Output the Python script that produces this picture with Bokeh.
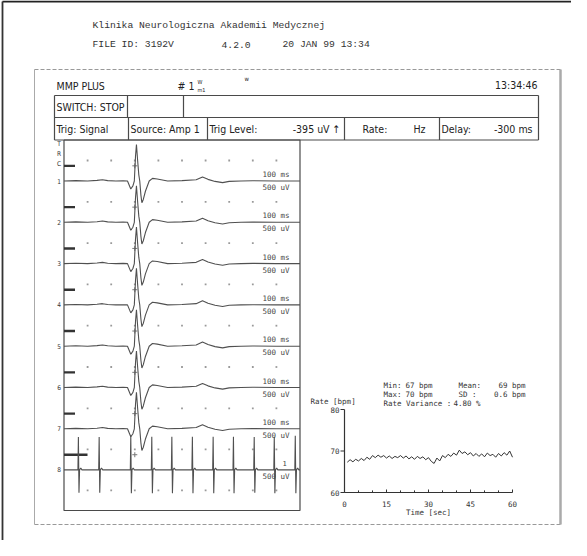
from bokeh.plotting import figure
from bokeh.models import Range1d
from bokeh.core.properties import value
from bokeh.embed import file_html
from bokeh.resources import INLINE

# ---------------- data ----------------
HEADER_TITLE = "Klinika Neurologiczna Akademii Medycznej"
FILE_ID = "FILE ID: 3192V"
VERSION = "4.2.0"
STAMP = "20 JAN 99 13:34"
DEVICE = "MMP PLUS"
CLOCK = "13:34:46"
SWITCH_TEXT = "SWITCH: STOP"
TRIG_TEXT = "Trig: Signal"
SOURCE_TEXT = "Source: Amp 1"
TRIG_LEVEL_LABEL = "Trig Level:"
TRIG_LEVEL_VALUE = "-395 uV \u2191"
RATE_LABEL = "Rate:"
RATE_UNIT = "Hz"
DELAY_LABEL = "Delay:"
DELAY_VALUE = "-300 ms"

CHANNELS = ["1", "2", "3", "4", "5", "6", "7", "8"]
TIMEBASE_LABEL = "100 ms"
GAIN_LABEL = "500 uV"
DELAY_MS = -300
SWEEP_MS = 1000
GRID_MS = [-200, -100, 0, 100, 200, 300, 400, 500, 600]
GRID_UV = 500

# averaged evoked response (channels 1-7), time in ms, amplitude in uV
WAVE_T = [-300, -250, -200, -160, -137, -115, -80, -50, -31, -17, -8, -2, 3, 7,
          12, 17, 21, 26, 30, 36, 45, 61, 75, 95, 139, 200, 260, 287, 310, 340,
          372, 400, 450, 500, 600, 700]
WAVE_UV = [0, 10, 0, 15, 30, 10, 0, 5, 0, -195, -120, 0, 600, 890,
           500, 150, 0, -350, -530, -450, -250, 0, 65, 50, 0, 10, 30, 100, 40, -10,
           -40, -10, 0, 5, 0, 0]

# channel 8: ECG-like spikes
ECG_SPIKE_T = [-239, -151, -17, 72, 157, 244, 332, 418, 506, 591, 680]
ECG_SPIKE_UP = [800, 800, 830, 810, 810, 810, 810, 810, 800, 810, 830]
ECG_SPIKE_DOWN = [-560, -560, -570, -570, -570, -570, -570, -570, -560, -570, -570]

# heart rate trend
RATE_T = list(range(1, 61))
RATE_BPM = [67.3, 67.9, 67.4, 68.0, 67.6, 68.2, 67.7, 68.5, 68.0, 68.9,
            68.4, 69.0, 68.5, 68.9, 68.3, 68.8, 68.2, 68.7, 68.4, 68.9,
            68.3, 68.8, 68.1, 68.6, 68.0, 68.7, 68.2, 68.6, 67.9, 68.4,
            67.5, 67.0, 68.3, 67.6, 68.9, 68.4, 69.2, 68.7, 69.5, 69.0,
            70.2, 69.4, 69.8, 69.1, 69.6, 68.8, 69.4, 68.7, 69.3, 68.6,
            69.5, 68.9, 69.2, 68.5, 69.4, 68.8, 69.6, 69.0, 70.0, 68.5]
RATE_XTICKS = [0, 15, 30, 45, 60]
RATE_XMINOR = [5, 10, 20, 25, 35, 40, 50, 55]
RATE_YTICKS = [60, 70, 80]
RATE_YLABEL = "Rate [bpm]"
RATE_XLABEL = "Time [sec]"
STAT_MIN, STAT_MAX, STAT_MEAN, STAT_SD, STAT_VAR = "67 bpm", "70 bpm", "69 bpm", "0.6 bpm", "4.80 %"

# ---------------- layout (page pixels) ----------------
W, H = 571, 540
X0, X1, Y0, Y1 = 8, 8 + W, 8, 8 + H
PX0, PX1, PTOP, PBOT = 71.5, 307.5, 147.5, 518
BASE = [188.5, 229.8, 271.1, 312.4, 353.7, 395.0, 436.3, 477.4]
UV_PER_PX = 500 / 20.5
MS_PER_PX = SWEEP_MS / (PX1 - PX0)
RX0, RX1, RY_TOP, RY_BOT = 352, 520, 417, 500

SANS = value("DejaVu Sans Condensed")
MONO = value("Liberation Mono")
DMONO = value("DejaVu Sans Mono")
INK = "#222222"
LINE = "#4a4a4a"


def ms_at(x):
    return DELAY_MS + (x - PX0) * MS_PER_PX


p = figure(width=W, height=H, x_range=Range1d(X0, X1), y_range=Range1d(Y1, Y0),
           output_backend="svg", toolbar_location=None, x_axis_type=None,
           y_axis_type=None, min_border=0, outline_line_color=None,
           background_fill_color="white", border_fill_color="white")

p.extra_x_ranges = {
    "ms": Range1d(ms_at(X0), ms_at(X1)),
    "sec": Range1d((X0 - RX0) * 60 / (RX1 - RX0), (X1 - RX0) * 60 / (RX1 - RX0)),
}
bpm_pp = 20 / (RY_BOT - RY_TOP)
yr = {"bpm": Range1d(60 + (RY_BOT - Y1) * bpm_pp, 60 + (RY_BOT - Y0) * bpm_pp)}
for k, b in enumerate(BASE):
    yr[f"ch{k+1}"] = Range1d((b - Y1) * UV_PER_PX, (b - Y0) * UV_PER_PX)
p.extra_y_ranges = yr

# page frame
p.line([10, X1], [9, 9], line_color="#222", line_width=1.8)
p.line([10, 10], [9, Y1], line_color="#333", line_width=1.8)

# outer box of the printout
p.line([42, 568], [77, 77], line_color="#999", line_width=1.2, line_dash="4 2")
p.line([42, 568], [532, 532], line_color="#999", line_width=1.2, line_dash="4 2")
p.line([42, 42], [77, 532], line_color="#aaa", line_width=1)
p.line([568, 568], [77, 532], line_color="#aaa", line_width=2.5)

# header texts
p.text([100], [33], text=[HEADER_TITLE], text_font=MONO, text_font_size="9.7px",
       text_baseline="middle", text_color="#333")
p.text([100, 229, 290], [52, 52, 52], text=[FILE_ID, VERSION, STAMP], text_font=MONO,
       text_font_size="9.7px", text_baseline="middle", text_color="#333")

# device title line
p.text([64], [93], text=[DEVICE], text_font=SANS, text_font_size="10.5px",
       text_baseline="middle", text_color=INK)
p.text([185], [93], text=["# 1"], text_font=SANS, text_font_size="10.5px",
       text_baseline="middle", text_color=INK)
p.text([205, 205], [89, 97], text=["W", "m1"], text_font=SANS, text_font_size="5.5px",
       text_baseline="middle", text_color=INK)
p.text([252], [86], text=["w"], text_font=SANS, text_font_size="6px",
       text_baseline="middle", text_color=INK)
p.text([545], [92], text=[CLOCK], text_font=SANS, text_font_size="10.5px",
       text_baseline="middle", text_align="right", text_color=INK)

# status rows
R1T, R1B, R2B = 103, 125, 147.5
RL, RR = 62, 546
p.multi_line([[RL, RR], [RL, RR], [RL, RR], [RL, RL], [RR, RR],
              [135, 135], [191, 191], [136, 136], [215, 215], [352, 352], [447, 447]],
             [[R1T, R1T], [R1B, R1B], [R2B, R2B], [R1T, R2B], [R1T, R2B],
              [R1T, R1B], [R1T, R1B], [R1B, R2B], [R1B, R2B], [R1B, R2B], [R1B, R2B]],
             line_color=LINE, line_width=1.2)
p.text([64], [114.5], text=[SWITCH_TEXT], text_font=SANS, text_font_size="10.5px",
       text_baseline="middle", text_color=INK)
p.text([64, 138, 217, 370, 449], [136.5] * 5,
       text=[TRIG_TEXT, SOURCE_TEXT, TRIG_LEVEL_LABEL, RATE_LABEL, DELAY_LABEL],
       text_font=SANS, text_font_size="10.5px", text_baseline="middle", text_color=INK)
p.text([348, 433, 540], [136.5] * 3, text=[TRIG_LEVEL_VALUE, RATE_UNIT, DELAY_VALUE],
       text_font=SANS, text_font_size="10.5px", text_baseline="middle",
       text_align="right", text_color=INK)

# trace panel border
p.multi_line([[PX0, PX1, PX1, PX0, PX0]], [[PTOP, PTOP, PBOT, PBOT, PTOP]],
             line_color=LINE, line_width=1.2)

# side labels
p.text([66.5, 66.5, 66.5], [151, 161, 171], text=["T", "R", "C"], text_font=SANS,
       text_font_size="6.5px", text_baseline="middle", text_align="center", text_color="#333")
p.text([66.5] * 8, BASE, text=CHANNELS, text_font=SANS, text_font_size="6.5px",
       text_baseline="middle", text_align="center", text_color="#333")

for k, b in enumerate(BASE):
    rn = f"ch{k+1}"
    # grid dots
    gy = [GRID_UV] * len(GRID_MS)
    if k == 7:
        gy2 = [-GRID_UV] * len(GRID_MS)
        p.scatter(GRID_MS, gy2, x_range_name="ms", y_range_name=rn, size=1.8,
                  marker="square", color="#9a9a9a", line_width=0)
    p.scatter(GRID_MS, gy, x_range_name="ms", y_range_name=rn, size=1.8,
              marker="square", color="#9a9a9a", line_width=0)
    # calibration mark
    mark_end = ms_at(95) if k == 7 else ms_at(82.5)
    p.line([DELAY_MS, mark_end], [370, 370], x_range_name="ms", y_range_name=rn,
           line_color="#333", line_width=2.4)
    # trigger cross
    p.scatter([0], [370], x_range_name="ms", y_range_name=rn, marker="cross",
              size=5, line_color="#777", line_width=1)
    # trace
    if k < 7:
        p.line(WAVE_T, WAVE_UV, x_range_name="ms", y_range_name=rn,
               line_color="#505050", line_width=1.1)
        p.text([270], [b - 6.5], text=[TIMEBASE_LABEL], text_font=DMONO,
               text_font_size="7.5px", text_baseline="middle", text_color="#444")
    else:
        et, ev = [DELAY_MS], [0]
        for t, up, dn in zip(ECG_SPIKE_T, ECG_SPIKE_UP, ECG_SPIKE_DOWN):
            et += [t - 2, t, t + 2.5, t + 5, t + 10, t + 15]
            ev += [0, up, dn, 0, 45, 0]
        et.append(DELAY_MS + SWEEP_MS)
        ev.append(0)
        p.line(et, ev, x_range_name="ms", y_range_name=rn,
               line_color="#505050", line_width=1.1)
        p.text([290], [b - 7], text=["1"], text_font=DMONO,
               text_font_size="7px", text_baseline="middle", text_color="#444")
    p.text([270], [b + 6.5], text=[GAIN_LABEL], text_font=DMONO,
           text_font_size="7.5px", text_baseline="middle", text_color="#444")

# ---------------- heart rate trend ----------------
p.line([0, 0], [60, 80], x_range_name="sec", y_range_name="bpm", line_color="#333", line_width=1.2)
p.line([0, 60], [60, 60], x_range_name="sec", y_range_name="bpm", line_color="#333", line_width=1.2)
tick_s = 4 * 60 / (RX1 - RX0)
tick_b = 3 * bpm_pp
p.segment(x0=[-tick_s] * 3, y0=RATE_YTICKS, x1=[0] * 3, y1=RATE_YTICKS,
          x_range_name="sec", y_range_name="bpm", line_color="#333", line_width=1)
p.segment(x0=RATE_XTICKS, y0=[60] * 5, x1=RATE_XTICKS, y1=[60 + tick_b] * 5,
          x_range_name="sec", y_range_name="bpm", line_color="#333", line_width=1)
p.segment(x0=RATE_XMINOR, y0=[60] * 8, x1=RATE_XMINOR, y1=[60 + tick_b * 0.7] * 8,
          x_range_name="sec", y_range_name="bpm", line_color="#333", line_width=1)
p.text([-tick_s] * 3, RATE_YTICKS, text=[str(v) for v in RATE_YTICKS],
       x_range_name="sec", y_range_name="bpm", x_offset=-1, text_font=DMONO,
       text_font_size="7.5px", text_baseline="middle", text_align="right", text_color="#333")
p.text(RATE_XTICKS, [60] * 5, text=[str(v) for v in RATE_XTICKS],
       x_range_name="sec", y_range_name="bpm", y_offset=11, text_font=DMONO,
       text_font_size="7.5px", text_baseline="middle", text_align="center", text_color="#333")
p.text([30], [60], text=[RATE_XLABEL], x_range_name="sec", y_range_name="bpm",
       y_offset=20, text_font=DMONO, text_font_size="7.5px", text_baseline="middle",
       text_align="center", text_color="#333")
p.line(RATE_T, RATE_BPM, x_range_name="sec", y_range_name="bpm",
       line_color="#333", line_width=1)

p.text([318], [409], text=[RATE_YLABEL], text_font=DMONO, text_font_size="7.5px",
       text_baseline="middle", text_color="#333")
p.text([391, 391, 391], [393, 402, 411], text=["Min:", "Max:", "Rate Variance  :"],
       text_font=DMONO, text_font_size="7.5px", text_baseline="middle", text_color="#333")
p.text([413, 413], [393, 402], text=[STAT_MIN, STAT_MAX], text_font=DMONO,
       text_font_size="7.5px", text_baseline="middle", text_color="#333")
p.text([466, 466], [393, 402], text=["Mean:", "SD  :"], text_font=DMONO,
       text_font_size="7.5px", text_baseline="middle", text_color="#333")
p.text([533, 533, 488], [393, 402, 411], text=[STAT_MEAN, STAT_SD, STAT_VAR],
       text_font=DMONO, text_font_size="7.5px", text_baseline="middle",
       text_align="right", text_color="#333")

open("out.html", "w").write(file_html(p, INLINE))
